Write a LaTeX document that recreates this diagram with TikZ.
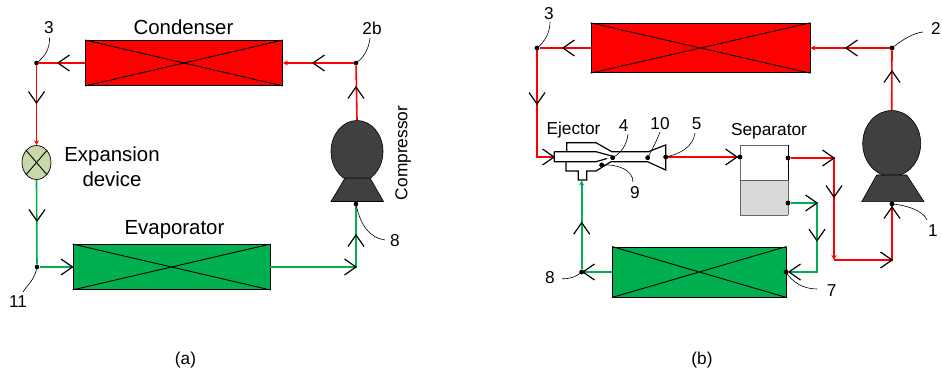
\documentclass[tikz,border=0pt]{standalone}
\usepackage{fontspec}
\setmainfont{Liberation Sans}
\usetikzlibrary{arrows.meta,shapes.geometric}
\definecolor{myred}{HTML}{FF0000}
\definecolor{mygreen}{HTML}{00B050}
\definecolor{mydark}{HTML}{404040}
\definecolor{mylight}{HTML}{C9D8A8}
\definecolor{mygray}{HTML}{D9D9D9}
\tikzset{
  chevron/.style={draw=black,line width=1.2pt},
  redl/.style={draw=myred,line width=1.6pt},
  grnl/.style={draw=mygreen,line width=1.6pt},
  endr/.style={-{Stealth[length=5pt,width=5pt]}},
  hx/.style={draw=black,line width=0.9pt,inner sep=0pt,minimum width=#1},
  dot/.style={circle,fill=black,inner sep=0pt,minimum size=4.6pt},
  big/.style={font=\fontsize{20.4}{24}\selectfont,align=center,inner sep=0pt},
  mid/.style={font=\fontsize{17.3}{21}\selectfont,inner sep=0pt},
  num/.style={font=\fontsize{17.2}{20}\selectfont,inner sep=0pt},
  leader/.style={draw=black,line width=0.6pt},
  comp/.style={fill=mydark,draw=black,line width=0.6pt},
  ej/.style={draw=black,line width=1.2pt,line join=miter}
}
\newcommand{\hxcross}[1]{\draw[black,line width=0.9pt] (#1.north west) -- (#1.south east) (#1.south west) -- (#1.north east);}
\newcommand{\chv}[3]{\draw[chevron,shift={(#1,#2)},rotate=#3] (-11.5pt,8pt) -- (0pt,0pt) -- (-11.5pt,-8pt);}
\begin{document}
\begin{tikzpicture}[x=1pt,y=-1pt]
\useasboundingbox (0,0) rectangle (942,371);
% ---------- (a) ----------
\node[hx=197pt,minimum height=45pt,fill=myred] (cond) at (184,63) {};
\hxcross{cond}
\node[hx=197pt,minimum height=45pt,fill=mygreen] (evap) at (171.5,267) {};
\hxcross{evap}
\node[big] (tcond) at (183.5,27) {Condenser};
\node[big] (tevap) at (174.5,230) {Evaporator};
\node[big] (texp) at (112,167) {Expansion\\[1pt]device};
\node[ellipse,draw=black,line width=0.7pt,fill=mylight,inner sep=0pt,minimum width=29pt,minimum height=34pt] (exp) at (36.5,162.5) {};
\draw[black,line width=0.9pt] (exp.north west) -- (exp.south east) (exp.south west) -- (exp.north east);
\node[ellipse,comp,inner sep=0pt,minimum width=52pt,minimum height=62pt] (ca) at (357,151.5) {};
\draw[comp] (345,178) -- (370,178) -- (383.5,201.5) -- (331,201.5) -- cycle;
\node[mid,rotate=90] (tca) at (403,153) {Compressor};
\node[dot] (a3) at (36.5,63) {};
\node[dot] (a2) at (356,63) {};
\node[dot] (a11) at (37,267) {};
\node[dot] (a8) at (356,204) {};
\coordinate (acorn) at (356,267);
\draw[redl,endr] (a2) -- (cond.east);
\draw[redl] (cond.west) -- (a3);
\draw[redl,endr] (a3) -- (exp.north);
\draw[redl] (ca.north) -- (a2);
\draw[grnl] (exp.south) -- (a11);
\draw[grnl] (a11) -- (evap.west);
\draw[grnl] (evap.east) -- (acorn) -- (a8);
\chv{313}{63}{180}
\chv{58}{63}{180}
\chv{36.5}{103}{270}
\chv{356}{87}{90}
\chv{37}{221}{270}
\chv{72.5}{267}{0}
\chv{356}{267}{0}
\chv{356}{235}{90}
\node[num] (n3a) at (49,28) {3};
\node[num] (n2b) at (372,28) {2b};
\node[num] (n8a) at (395,241) {8};
\node[num] (n11) at (18,302) {11};
\coordinate (e3a) at (49.5,38);
\coordinate (e2b) at (370,38);
\coordinate (e8a) at (385,240);
\coordinate (e11) at (23,292);
\draw[leader] (a3.center) .. controls (45,57) and (50,48) .. (e3a);
\draw[leader] (a2.center) .. controls (365,57) and (369,47) .. (e2b);
\draw[leader] (a8.center) .. controls (360,225) and (370,238) .. (e8a);
\draw[leader] (a11.center) .. controls (35,280) and (27,285) .. (e11);
\node[num] (ta) at (185.5,360.5) {(a)};
% ---------- (b) ----------
\node[hx=219pt,minimum height=49.5pt,fill=myred] (condb) at (700.5,48) {};
\hxcross{condb}
\node[hx=173.5pt,minimum height=50pt,fill=mygreen] (evapb) at (699.3,272) {};
\hxcross{evapb}
\node[ellipse,comp,inner sep=0pt,minimum width=58pt,minimum height=66pt] (cb) at (891.7,143.5) {};
\draw[comp] (876.7,175) -- (906.7,175) -- (924,201.7) -- (861.7,201.7) -- cycle;
% separator
\fill[white] (740,145) rectangle (788,180);
\fill[mygray] (740,180) rectangle (788,215);
\draw[draw=black!60,line width=0.9pt] (788,215) -- (740,215) -- (740,145) -- (788,145);
\draw[draw=black!65,line width=0.9pt] (740,180) -- (788,180);
\draw[black,line width=0.9pt] (788,145) -- (788,180);
\draw[draw=black!60,line width=0.9pt] (788,180) -- (788,215);
\node[mid] (tsep) at (769,131) {Separator};
\node[mid] (tej) at (573.5,130) {Ejector};
% ejector
\draw[ej] (566.7,151.5) -- (566.7,142.7) -- (596,142.7) -- (611.7,151.7) -- (648.3,151.7) -- (665.7,145) -- (665.7,170) -- (647.5,161.7) -- (611,161.7) -- (596,171) -- (586.7,171) -- (586.7,180) -- (578.3,180) -- (578.3,171) -- (566,171) -- (566,161.7);
\draw[ej] (554.3,151.7) -- (596,151.7) -- (611.7,156) (554.3,151.7) -- (554.3,161.7) -- (596,161.7) -- (607,158.5);
\coordinate (ejin) at (554.3,157);
\coordinate (ejgr) at (581.7,180.5);
\node[dot] (b4) at (612.7,157.7) {};
\node[dot] (b10) at (647.7,157.7) {};
\node[dot] (b5) at (665.7,157) {};
\node[dot] (b9) at (601.7,165) {};
\node[dot] (b3) at (537,48) {};
\node[dot] (b2) at (892,48) {};
\node[dot] (b1) at (892,204) {};
\node[dot] (b7) at (786,272) {};
\node[dot] (b8) at (581.7,272) {};
\node[dot] (s1) at (740,157) {};
\node[dot] (s2) at (788,158) {};
\node[dot] (s3) at (788,203) {};
\coordinate (r1) at (537,157);
\coordinate (r2) at (834,158);
\coordinate (r3) at (834,260);
\coordinate (r4) at (892,260);
\coordinate (g1) at (817,203);
\coordinate (g2) at (817,272);
\draw[redl,endr] (b2) -- (condb.east);
\draw[redl] (condb.west) -- (b3);
\draw[redl] (cb.north) -- (b2);
\draw[redl] (b3) -- (r1) -- (ejin);
\draw[redl] (b5) -- (s1);
\draw[redl,endr] (s2) -- (r2) -- (r3);
\draw[redl] (r3) -- (r4) -- (b1);
\draw[grnl] (s3) -- (g1) -- (g2) -- (b7);
\draw[grnl] (evapb.west) -- (b8);
\draw[grnl,endr] (b8) -- (ejgr);
\chv{846}{48}{180}
\chv{892}{71}{90}
\chv{563}{48}{180}
\chv{537}{104}{270}
\chv{554}{157}{0}
\chv{737}{157}{0}
\chv{834}{158}{0}
\chv{834}{197}{270}
\chv{892}{260}{0}
\chv{892}{207}{90}
\chv{817}{203}{0}
\chv{817}{240.7}{270}
\chv{789}{272}{180}
\chv{583}{272}{180}
\chv{581.7}{222.7}{90}
\foreach \d in {b4,b10,b5,b9,b3,b2,b1,b7,b8,s1,s2,s3}{\node[dot] at (\d) {};}
\node[num] (n3b) at (549,14) {3};
\node[num] (n2) at (936,28) {2};
\node[num] (n4) at (623.7,125.7) {4};
\node[num] (n10) at (660,124) {10};
\node[num] (n5) at (696.7,124) {5};
\node[num] (n9) at (635,192.7) {9};
\node[num] (n1) at (933,231) {1};
\node[num] (n7) at (831.7,291) {7};
\node[num] (n8b) at (550,277.7) {8};
\coordinate (e3b) at (550,22);
\coordinate (e2) at (923,32);
\coordinate (e4) at (628,134);
\coordinate (e10) at (660,132);
\coordinate (e5) at (695,133);
\coordinate (e9) at (633,182);
\coordinate (e1) at (927,220);
\coordinate (e7) at (817,289);
\coordinate (e8b) at (562,278.7);
\draw[leader] (b3.center) .. controls (545,42) and (550,32) .. (e3b);
\draw[leader] (b2.center) .. controls (902,40) and (913,33) .. (e2);
\draw[leader] (b4.center) .. controls (621,153) and (627,145) .. (e4);
\draw[leader] (b10.center) .. controls (652,150) and (657,140) .. (e10);
\draw[leader] (b5.center) .. controls (680,154) and (693,147) .. (e5);
\draw[leader] (b9.center) .. controls (618,164) and (633,170) .. (e9);
\draw[leader] (b1.center) .. controls (905,205) and (923,210) .. (e1);
\draw[leader] (b7.center) .. controls (792,282) and (803,289) .. (e7);
\draw[leader] (b8.center) .. controls (576,277) and (570,279) .. (e8b);
\node[num] (tb) at (702,360.5) {(b)};
\end{tikzpicture}
\end{document}
